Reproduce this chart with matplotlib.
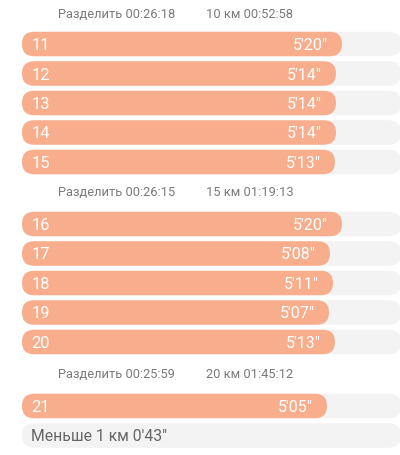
import matplotlib
matplotlib.use("Agg")
import matplotlib.pyplot as plt
from matplotlib.patches import FancyBboxPatch

plt.rcParams['font.family'] = ['Roboto', 'DejaVu Sans']

# Data
km_numbers = [11, 12, 13, 14, 15, 16, 17, 18, 19, 20, 21]
pace_labels = ["5'20\"", "5'14\"", "5'14\"", "5'14\"", "5'13\"",
               "5'20\"", "5'08\"", "5'11\"", "5'07\"", "5'13\"", "5'05\""]
pace_seconds = [320, 314, 314, 314, 313, 320, 308, 311, 307, 313, 305]
split_labels = ["Разделить 00:26:18", "Разделить 00:26:15", "Разделить 00:25:59"]
total_labels = ["10 км 00:52:58", "15 км 01:19:13", "20 км 01:45:12"]
remainder_label = "Меньше 1 км 0'43\""

BAR = "#f8ae8c"
BG = "#f3f3f3"

fig = plt.figure(figsize=(4.0, 4.56), dpi=100)
ax = fig.add_axes([0, 0, 1, 1])
# 1 px per second, bars start 22 px from left
ax.set_xlim(-22, 378)
ax.set_ylim(456, 0)
ax.axis('off')

bar_h = 24.5
bg_end = 379

def pill(x0, x1, yc, color):
    r = bar_h / 2
    p = FancyBboxPatch((x0 + r, yc - bar_h / 2 + r), (x1 - x0) - 2 * r, bar_h - 2 * r,
                       boxstyle=f"round,pad={r}", fc=color, ec='none', mutation_aspect=1)
    ax.add_patch(p)

header_y = [14, 193, 375]
row_y = [45, 74.5, 104, 133.5, 163, 225, 254.5, 284, 313.5, 343, 407]
last_y = 436.5

for hy, s, t in zip(header_y, split_labels, total_labels):
    ax.text(36, hy, s, fontsize=9.3, color='#7a7a7a', va='center', ha='left')
    ax.text(184, hy, t, fontsize=9.3, color='#7a7a7a', va='center', ha='left')

for yc, n, sec, lab in zip(row_y, km_numbers, pace_seconds, pace_labels):
    pill(0, bg_end, yc, BG)
    pill(0, sec, yc, BAR)
    ax.text(9.5, yc + 0.5, str(n), fontsize=11.8, color='white', va='center', ha='left')
    ax.text(sec - 13.7, yc + 0.5, lab, fontsize=11.5, color='white', va='center', ha='right')

pill(0, bg_end, last_y, BG)
ax.text(9, last_y + 0.5, remainder_label, fontsize=11.3, color='#666666', va='center', ha='left')

fig.savefig("out.png", dpi=100, facecolor='white')
